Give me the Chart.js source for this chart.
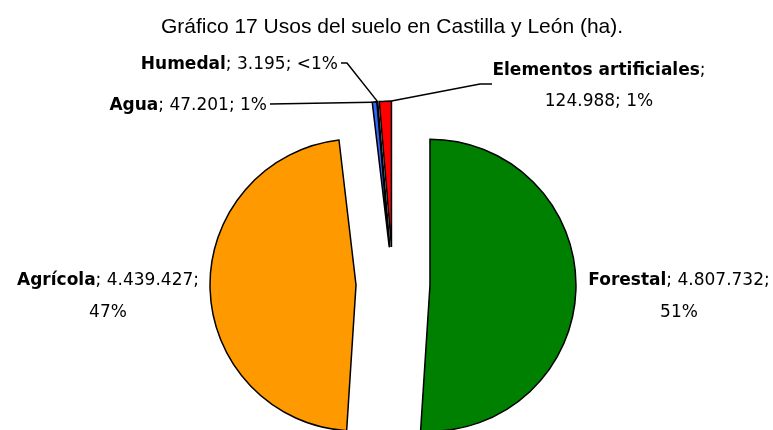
<!DOCTYPE html>
<html>
<head>
<meta charset="utf-8">
<script src="https://cdn.jsdelivr.net/npm/chart.js@4.4.1/dist/chart.umd.min.js"></script>
<style>
  html, body { margin: 0; padding: 0; background: #ffffff; }
  #wrap { width: 773px; height: 430px; position: relative; }
</style>
</head>
<body>
<div id="wrap"><canvas id="c" width="773" height="430"></canvas></div>
<script>
// ---------- data ----------
const categories = ['Forestal', 'Agrícola', 'Agua', 'Humedal', 'Elementos artificiales'];
const values = [4807732, 4439427, 47201, 3195, 124988];
const colors = ['#008000', '#FF9900', '#3366FF', '#33CCCC', '#FF0000'];
const titleText = 'Gráfico 17 Usos del suelo en Castilla y León (ha).';

// ---------- layout / style ----------
const PIE_RADIUS = 146;
const EXPLODE = 37;           // explosion distance of every slice, px
const LABEL_FONT = 'DejaVu Sans';
const LABEL_SIZE = 17;
const TITLE_FONT = '"Liberation Sans", Arial, sans-serif';
const TITLE_SIZE = 21;
// label line layout: brk = number of parts (name, value, pct) on the first line
const labelLayout = [
  { brk: 2, align: 'center', x: 679, y: [285, 317] },           // Forestal
  { brk: 2, align: 'center', x: 108, y: [285, 317] },           // Agrícola
  { brk: 3, align: 'right',  x: 267, y: [110] },                // Agua
  { brk: 3, align: 'right',  x: 338, y: [69] },                 // Humedal
  { brk: 1, align: 'center', x: 599, y: [74.5, 105.5] }         // Elementos
];

const total = values.reduce((a, b) => a + b, 0);
const fmtNum = v => String(v).replace(/\B(?=(\d{3})+(?!\d))/g, '.');
const fmtPct = v => { const p = v / total * 100; return p < 0.5 ? '<1%' : Math.round(p) + '%'; };

// pure radial explosion: move every arc's centre along its mid angle after each update
const explodePlugin = {
  id: 'explode',
  afterDatasetUpdate(chart, args) {
    const meta = chart.getDatasetMeta(args.index);
    meta.data.forEach(el => {
      const half = (el.startAngle + el.endAngle) / 2;
      el.x += Math.cos(half) * EXPLODE;
      el.y += Math.sin(half) * EXPLODE;
    });
  }
};

function arcGeom(chart, i) {
  const el = chart.getDatasetMeta(0).data[i];
  const half = (el.startAngle + el.endAngle) / 2;
  const pt = a => ({ x: el.x + Math.cos(a) * el.outerRadius, y: el.y + Math.sin(a) * el.outerRadius });
  return { start: pt(el.startAngle), mid: pt(half), end: pt(el.endAngle) };
}

function drawParts(ctx, parts, x, y, align) {
  const fontOf = b => (b ? 'bold ' : '') + LABEL_SIZE + 'px "' + LABEL_FONT + '"';
  let w = 0;
  parts.forEach(pt => { ctx.font = fontOf(pt.b); w += ctx.measureText(pt.t).width; });
  let sx = align === 'center' ? x - w / 2 : (align === 'right' ? x - w : x);
  ctx.textAlign = 'left';
  ctx.textBaseline = 'alphabetic';
  parts.forEach(pt => { ctx.font = fontOf(pt.b); ctx.fillText(pt.t, sx, y); sx += ctx.measureText(pt.t).width; });
}

const labelPlugin = {
  id: 'sliceLabels',
  afterDatasetsDraw(chart) {
    const ctx = chart.ctx;
    ctx.save();
    // title
    ctx.fillStyle = '#000';
    ctx.font = TITLE_SIZE + 'px ' + TITLE_FONT;
    ctx.textAlign = 'center';
    ctx.textBaseline = 'alphabetic';
    ctx.fillText(titleText, 392, 32.5);

    // leader lines
    ctx.strokeStyle = '#000';
    ctx.lineWidth = 1.5;
    const gHum = arcGeom(chart, 3), gAgua = arcGeom(chart, 2), gEl = arcGeom(chart, 4);
    ctx.beginPath();
    ctx.moveTo(341, 63); ctx.lineTo(347, 63); ctx.lineTo(gHum.mid.x, gHum.mid.y);
    ctx.moveTo(270, 104); ctx.lineTo(gAgua.start.x, gAgua.start.y);
    ctx.moveTo(gEl.end.x, gEl.end.y); ctx.lineTo(480, 84); ctx.lineTo(492, 84);
    ctx.stroke();

    // labels
    ctx.fillStyle = '#000';
    categories.forEach((name, i) => {
      const L = labelLayout[i];
      const items = [name, fmtNum(values[i]), fmtPct(values[i])];
      const line1 = [{ t: items[0], b: true }];
      const rest1 = items.slice(1, L.brk);
      let s1 = rest1.length ? '; ' + rest1.join('; ') : '';
      if (L.brk < 3) s1 += ';';
      line1.push({ t: s1, b: false });
      drawParts(ctx, line1, L.x, L.y[0], L.align);
      if (L.brk < 3) {
        drawParts(ctx, [{ t: items.slice(L.brk).join('; '), b: false }], L.x, L.y[1], L.align);
      }
    });
    ctx.restore();
  }
};

new Chart(document.getElementById('c'), {
  type: 'pie',
  data: {
    labels: categories,
    datasets: [{
      data: values,
      backgroundColor: colors,
      borderColor: '#000000',
      borderWidth: 1.5,
      borderJoinStyle: 'miter',
      radius: PIE_RADIUS,
      offset: 0
    }]
  },
  options: {
    responsive: false,
    devicePixelRatio: 1,
    animation: false,
    radius: PIE_RADIUS,
    layout: { padding: { top: 138, left: 13, right: 0, bottom: 0 } },
    plugins: {
      legend: { display: false },
      title: { display: false },
      tooltip: { enabled: false }
    }
  },
  plugins: [explodePlugin, labelPlugin]
});
</script>
</body>
</html>
